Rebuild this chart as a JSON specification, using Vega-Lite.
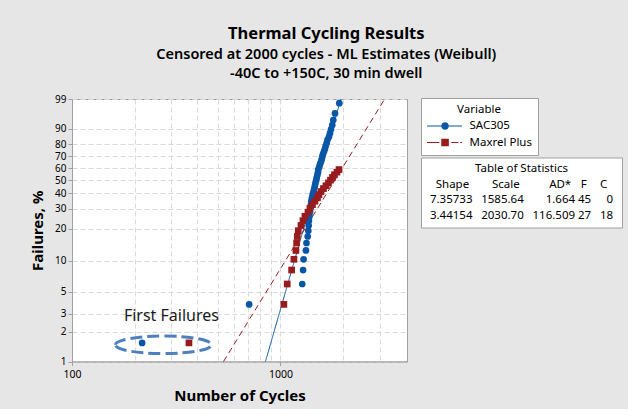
{
  "$schema": "https://vega.github.io/schema/vega-lite/v6.json",
  "background": "#e6e6e6",
  "padding": {"left": 30, "top": 25, "right": 5, "bottom": 5},
  "title": {
    "text": "Thermal Cycling Results",
    "subtitle": ["Censored at 2000 cycles - ML Estimates (Weibull)", "-40C to +150C, 30 min dwell"],
    "anchor": "middle",
    "font": "Noto Sans",
    "fontSize": 16.5,
    "fontWeight": "bold",
    "color": "black",
    "subtitleFont": "Noto Sans",
    "subtitleFontSize": 14.5,
    "subtitleFontWeight": 600,
    "subtitleColor": "black",
    "subtitleLineHeight": 18.5,
    "subtitlePadding": 6,
    "offset": 13.5
  },
  "spacing": 10,
  "resolve": {
    "scale": {"color": "independent", "shape": "independent", "strokeDash": "independent"},
    "legend": {"color": "independent", "shape": "independent", "strokeDash": "independent"}
  },
  "hconcat": [
    {
      "width": 335,
      "height": 262.5,
      "encoding": {
        "x": {
          "field": "cycles",
          "type": "quantitative",
          "scale": {"type": "log", "domain": [100, 4050], "nice": false},
          "axis": {
            "title": "Number of Cycles",
            "values": [100, 200, 300, 400, 500, 600, 700, 800, 900, 1000, 2000, 3000],
            "labelExpr": "datum.value == 100 || datum.value == 1000 ? format(datum.value, 'd') : ''",
            "tickOpacity": {"condition": {"test": "datum.value == 100 || datum.value == 1000", "value": 1}, "value": 0},
            "labelFlush": false,
            "labelOverlap": false,
            "labelFontSize": 10.5,
            "labelPadding": 4,
            "titlePadding": 8
          }
        },
        "y": {
          "field": "w",
          "type": "quantitative",
          "scale": {"domain": [-4.60015, 1.52718], "nice": false, "zero": false},
          "axis": {
            "title": "Failures, %",
            "values": [-4.60015, -3.90194, -3.49137, -2.9702, -2.25037, -1.49994, -1.03093, -0.67173, -0.36651, -0.08742, 0.18563, 0.47588, 0.83403, 1.52718],
            "labelExpr": "format(round(100 * (1 - exp(-exp(datum.value)))), 'd')",
            "labelFlush": false,
            "labelOverlap": false,
            "labelFontSize": 10,
            "titlePadding": 9
          }
        }
      },
      "layer": [
        {
          "data": {"values": [
            {"Variable": "SAC305", "cycles": 848, "pct": 1},
            {"Variable": "SAC305", "cycles": 1951, "pct": 99},
            {"Variable": "Maxrel Plus", "cycles": 533.5, "pct": 1},
            {"Variable": "Maxrel Plus", "cycles": 3165, "pct": 99}
          ]},
          "transform": [{"calculate": "log(-log(1 - datum.pct / 100))", "as": "w"}],
          "mark": {"type": "line", "strokeWidth": 1},
          "encoding": {
            "color": {"field": "Variable", "type": "nominal", "scale": {"domain": ["SAC305", "Maxrel Plus"], "range": ["#0a56a6", "#981b1e"]}, "legend": null},
            "strokeDash": {"field": "Variable", "type": "nominal", "scale": {"domain": ["SAC305", "Maxrel Plus"], "range": [[1, 0], [6, 4]]}, "legend": null}
          }
        },
        {
          "data": {"values": [
            {"Variable": "SAC305", "cycles": 217, "pct": 1.54},
            {"Variable": "SAC305", "cycles": 708, "pct": 3.74},
            {"Variable": "SAC305", "cycles": 1273, "pct": 5.95},
            {"Variable": "SAC305", "cycles": 1285, "pct": 8.15},
            {"Variable": "SAC305", "cycles": 1292, "pct": 10.35},
            {"Variable": "SAC305", "cycles": 1326, "pct": 12.56},
            {"Variable": "SAC305", "cycles": 1334, "pct": 14.76},
            {"Variable": "SAC305", "cycles": 1352, "pct": 16.96},
            {"Variable": "SAC305", "cycles": 1361, "pct": 19.16},
            {"Variable": "SAC305", "cycles": 1367, "pct": 21.37},
            {"Variable": "SAC305", "cycles": 1371, "pct": 23.57},
            {"Variable": "SAC305", "cycles": 1379, "pct": 25.77},
            {"Variable": "SAC305", "cycles": 1386, "pct": 27.97},
            {"Variable": "SAC305", "cycles": 1394, "pct": 30.18},
            {"Variable": "SAC305", "cycles": 1402, "pct": 32.38},
            {"Variable": "SAC305", "cycles": 1406, "pct": 34.58},
            {"Variable": "SAC305", "cycles": 1417, "pct": 36.78},
            {"Variable": "SAC305", "cycles": 1428, "pct": 38.99},
            {"Variable": "SAC305", "cycles": 1441, "pct": 41.19},
            {"Variable": "SAC305", "cycles": 1454, "pct": 43.39},
            {"Variable": "SAC305", "cycles": 1465, "pct": 45.59},
            {"Variable": "SAC305", "cycles": 1473, "pct": 47.8},
            {"Variable": "SAC305", "cycles": 1486, "pct": 50.0},
            {"Variable": "SAC305", "cycles": 1494, "pct": 52.2},
            {"Variable": "SAC305", "cycles": 1506, "pct": 54.41},
            {"Variable": "SAC305", "cycles": 1515, "pct": 56.61},
            {"Variable": "SAC305", "cycles": 1519, "pct": 58.81},
            {"Variable": "SAC305", "cycles": 1536, "pct": 61.01},
            {"Variable": "SAC305", "cycles": 1548, "pct": 63.22},
            {"Variable": "SAC305", "cycles": 1566, "pct": 65.42},
            {"Variable": "SAC305", "cycles": 1578, "pct": 67.62},
            {"Variable": "SAC305", "cycles": 1589, "pct": 69.82},
            {"Variable": "SAC305", "cycles": 1601, "pct": 72.03},
            {"Variable": "SAC305", "cycles": 1619, "pct": 74.23},
            {"Variable": "SAC305", "cycles": 1637, "pct": 76.43},
            {"Variable": "SAC305", "cycles": 1650, "pct": 78.63},
            {"Variable": "SAC305", "cycles": 1668, "pct": 80.84},
            {"Variable": "SAC305", "cycles": 1683, "pct": 83.04},
            {"Variable": "SAC305", "cycles": 1711, "pct": 85.24},
            {"Variable": "SAC305", "cycles": 1730, "pct": 87.44},
            {"Variable": "SAC305", "cycles": 1749, "pct": 89.65},
            {"Variable": "SAC305", "cycles": 1774, "pct": 91.85},
            {"Variable": "SAC305", "cycles": 1794, "pct": 94.05},
            {"Variable": "SAC305", "cycles": 1828, "pct": 96.26},
            {"Variable": "SAC305", "cycles": 1917, "pct": 98.46},
            {"Variable": "Maxrel Plus", "cycles": 364, "pct": 1.54},
            {"Variable": "Maxrel Plus", "cycles": 1039, "pct": 3.74},
            {"Variable": "Maxrel Plus", "cycles": 1078, "pct": 5.95},
            {"Variable": "Maxrel Plus", "cycles": 1132, "pct": 8.15},
            {"Variable": "Maxrel Plus", "cycles": 1161, "pct": 10.35},
            {"Variable": "Maxrel Plus", "cycles": 1187, "pct": 12.56},
            {"Variable": "Maxrel Plus", "cycles": 1196, "pct": 14.76},
            {"Variable": "Maxrel Plus", "cycles": 1205, "pct": 16.96},
            {"Variable": "Maxrel Plus", "cycles": 1218, "pct": 19.16},
            {"Variable": "Maxrel Plus", "cycles": 1255, "pct": 21.37},
            {"Variable": "Maxrel Plus", "cycles": 1283, "pct": 23.57},
            {"Variable": "Maxrel Plus", "cycles": 1311, "pct": 25.77},
            {"Variable": "Maxrel Plus", "cycles": 1356, "pct": 27.97},
            {"Variable": "Maxrel Plus", "cycles": 1386, "pct": 30.18},
            {"Variable": "Maxrel Plus", "cycles": 1425, "pct": 32.38},
            {"Variable": "Maxrel Plus", "cycles": 1465, "pct": 34.58},
            {"Variable": "Maxrel Plus", "cycles": 1506, "pct": 36.78},
            {"Variable": "Maxrel Plus", "cycles": 1531, "pct": 38.99},
            {"Variable": "Maxrel Plus", "cycles": 1566, "pct": 41.19},
            {"Variable": "Maxrel Plus", "cycles": 1609, "pct": 43.39},
            {"Variable": "Maxrel Plus", "cycles": 1655, "pct": 45.59},
            {"Variable": "Maxrel Plus", "cycles": 1701, "pct": 47.8},
            {"Variable": "Maxrel Plus", "cycles": 1739, "pct": 50.0},
            {"Variable": "Maxrel Plus", "cycles": 1778, "pct": 52.2},
            {"Variable": "Maxrel Plus", "cycles": 1817, "pct": 54.41},
            {"Variable": "Maxrel Plus", "cycles": 1868, "pct": 56.61},
            {"Variable": "Maxrel Plus", "cycles": 1911, "pct": 58.81}
          ]},
          "transform": [{"calculate": "log(-log(1 - datum.pct / 100))", "as": "w"}],
          "mark": {"type": "point", "filled": true, "size": 45, "opacity": 1},
          "encoding": {
            "color": {"field": "Variable", "type": "nominal", "scale": {"domain": ["SAC305", "Maxrel Plus"], "range": ["#0a56a6", "#981b1e"]}, "legend": null},
            "shape": {"field": "Variable", "type": "nominal", "scale": {"domain": ["SAC305", "Maxrel Plus"], "range": ["circle", "square"]}, "legend": null}
          }
        },
        {
          "data": {"values": [{"cycles": 274.5, "pct": 1.473}]},
          "transform": [{"calculate": "log(-log(1 - datum.pct / 100))", "as": "w"}],
          "mark": {
            "type": "point",
            "shape": "M-1,0C-1,-0.101 -0.552,-0.183 0,-0.183C0.552,-0.183 1,-0.101 1,0C1,0.101 0.552,0.183 0,0.183C-0.552,0.183 -1,0.101 -1,0Z",
            "size": 9216,
            "filled": false,
            "color": "#4e80bd",
            "strokeWidth": 3,
            "strokeDash": [12, 5],
            "opacity": 1
          }
        },
        {
          "data": {"values": [{"cycles": 300, "pct": 2.85, "label": "First Failures"}]},
          "transform": [{"calculate": "log(-log(1 - datum.pct / 100))", "as": "w"}],
          "mark": {"type": "text", "font": "Noto Sans", "fontSize": 16, "color": "#1a1a1a", "baseline": "middle"},
          "encoding": {"text": {"field": "label"}}
        }
      ]
    },
    {
      "spacing": 54.5,
      "vconcat": [
        {
          "width": 1,
          "height": 1,
          "view": {"stroke": null, "fill": null},
          "data": {"values": [{"Variable": "SAC305"}, {"Variable": "Maxrel Plus"}]},
          "mark": {"type": "point", "filled": true, "opacity": 0},
          "encoding": {
            "color": {
              "field": "Variable", "type": "nominal",
              "scale": {"domain": ["SAC305", "Maxrel Plus"], "range": ["#0a56a6", "#981b1e"]},
              "legend": {
                "title": "Variable", "orient": "none", "legendX": 0, "legendY": -1,
                "titleAnchor": "middle", "padding": 6, "strokeColor": "#a0a0a0", "fillColor": "white",
                "symbolSize": 100, "symbolOpacity": 1, "symbolStrokeWidth": 0,
                "labelOffset": 31, "rowPadding": 3.6, "titlePadding": 4.7
              }
            },
            "shape": {
              "field": "Variable", "type": "nominal",
              "scale": {"domain": ["SAC305", "Maxrel Plus"], "range": [
                "M-1.14,-0.1H5.86V0.1H-1.14Z M1.7,0C1.7,-0.42 2.04,-0.76 2.46,-0.76C2.88,-0.76 3.22,-0.42 3.22,0C3.22,0.42 2.88,0.76 2.46,0.76C2.04,0.76 1.7,0.42 1.7,0Z",
                "M-1.14,-0.1H1.3V0.1H-1.14Z M1.7,-0.76H3.22V0.76H1.7Z M3.72,-0.1H5.12V0.1H3.72Z M5.5,-0.1H5.86V0.1H5.5Z"
              ]},
              "legend": {
                "title": "Variable", "orient": "none", "legendX": 0, "legendY": -1,
                "titleAnchor": "middle", "padding": 6, "strokeColor": "#a0a0a0", "fillColor": "white",
                "symbolSize": 100, "symbolOpacity": 1, "symbolStrokeWidth": 0,
                "labelOffset": 31, "rowPadding": 3.6, "titlePadding": 4.7
              }
            }
          }
        },
        {
          "width": 201,
          "height": 70,
          "view": {"fill": "white", "stroke": "#a0a0a0"},
          "data": {"values": [
            {"row": "title", "text": "Table of Statistics"},
            {"row": "header", "text": "\u2007\u2008Shape\u2007\u2007\u2007\u2008Scale\u2007\u2007\u2007\u2007\u2008AD*\u2007\u2008F\u2007\u2007C"},
            {"row": "SAC305", "text": "7.35733\u2002 1585.64\u2002 \u2007\u20071.664 45\u2002 \u20070"},
            {"row": "Maxrel Plus", "text": "3.44154\u2002 2030.70\u2002 116.509 27\u2002 18"}
          ]},
          "mark": {"type": "text", "font": "Noto Sans", "fontSize": 11.5, "baseline": "middle", "color": "black"},
          "encoding": {
            "y": {"field": "row", "type": "ordinal", "scale": {"type": "point", "domain": ["title", "header", "SAC305", "Maxrel Plus"], "padding": 0.75}, "axis": null},
            "text": {"field": "text"}
          }
        }
      ]
    }
  ],
  "config": {
    "font": "Noto Sans",
    "view": {"stroke": "#a0a0a0", "fill": "white"},
    "axis": {
      "labelFont": "Noto Sans", "labelFontSize": 10.5, "labelColor": "black", "labelPadding": 2,
      "titleFont": "Noto Sans", "titleFontSize": 15, "titleFontWeight": "bold", "titleColor": "black",
      "domainColor": "#a0a0a0", "tickColor": "#a0a0a0", "tickSize": 4,
      "gridColor": "#d9d9d9", "gridDash": [5, 3]
    },
    "legend": {
      "labelFont": "Noto Sans", "labelFontSize": 11.5, "labelColor": "black",
      "titleFont": "Noto Sans", "titleFontSize": 11.5, "titleFontWeight": "normal", "titleColor": "black"
    }
  }
}
